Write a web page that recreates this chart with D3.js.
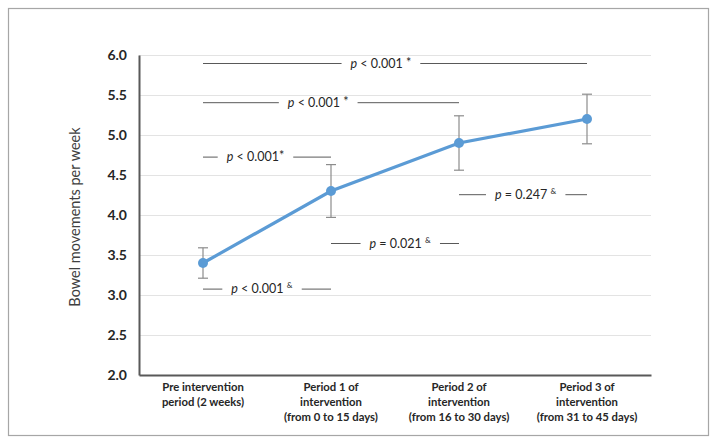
<!DOCTYPE html>
<html><head><meta charset="utf-8">
<script src="https://cdn.jsdelivr.net/npm/d3@7"></script>
<style>body{margin:0;background:#fff}svg{display:block}</style>
</head><body>
<svg id="c" width="720" height="446"></svg>
<script>
const categories = [
  ["Pre intervention", "period (2 weeks)"],
  ["Period 1 of", "intervention", "(from 0 to 15 days)"],
  ["Period 2 of", "intervention", "(from 16 to 30 days)"],
  ["Period 3 of", "intervention", "(from 31 to 45 days)"]
];
const means = [3.4, 4.3, 4.9, 5.2];
const errors = [0.19, 0.33, 0.34, 0.31];
const yTicks = [2.0, 2.5, 3.0, 3.5, 4.0, 4.5, 5.0, 5.5, 6.0];
const yTitle = "Bowel movements per week";
// annotations: comparison between category indices, level on y scale, label
const annFrom = [0, 0, 0, 0, 1, 2];
const annTo = [3, 2, 1, 1, 2, 3];
const annLevel = [5.9, 5.41, 4.73, 3.08, 3.65, 4.26];
const annOp = ["<", "<", "<", "<", "=", "="];
const annValue = ["0.001", "0.001", "0.001", "0.001", "0.021", "0.247"];
const annMark = [" *", " *", "*", " &", " &", " &"];
const annCenter = [1.39, 0.90, 0.41, 0.46, 1.54, 2.52];

const svg = d3.select("#c");
const font = "Lato, 'Liberation Sans', sans-serif";

// outer frame
svg.append("rect").attr("x", 8.5).attr("y", 8.5).attr("width", 700).attr("height", 427)
  .attr("fill", "#fff").attr("stroke", "#a6a6a6").attr("stroke-width", 1.2);

const m = {l: 139, r: 651, t: 55, b: 375};
const x = d3.scaleBand().domain(d3.range(categories.length)).range([m.l, m.r]);
const xc = i => x(i) + x.bandwidth() / 2;
const xf = f => m.l + x.bandwidth() / 2 + f * x.bandwidth();
const y = d3.scaleLinear().domain([2, 6]).range([m.b, m.t]);

// gridlines
svg.append("g").selectAll("line").data(yTicks.slice(1)).join("line")
  .attr("x1", m.l).attr("x2", m.r).attr("y1", d => y(d) + 0.5).attr("y2", d => y(d) + 0.5)
  .attr("stroke", "#e3e3e3").attr("stroke-width", 1);

// y axis
const ya = svg.append("g").attr("transform", `translate(${m.l},0)`)
  .call(d3.axisLeft(y).tickValues(yTicks).tickFormat(d3.format(".1f")).tickSize(0).tickPadding(12));
ya.select(".domain").attr("stroke", "#595959").attr("stroke-width", 2);
ya.selectAll("text").attr("font-family", font).attr("font-weight", "bold")
  .attr("font-size", 14).attr("fill", "#262626");

// x axis
const xa = svg.append("g").attr("transform", `translate(0,${m.b})`)
  .call(d3.axisBottom(x).tickSize(0).tickFormat(""));
xa.select(".domain").attr("stroke", "#595959").attr("stroke-width", 2);
xa.selectAll(".tick").each(function(d) {
  const t = d3.select(this).select("text").attr("y", 0).attr("dy", 0)
    .attr("font-family", font).attr("font-weight", "bold").attr("font-size", 11.3)
    .attr("fill", "#262626");
  categories[d].forEach((line, k) => {
    t.append("tspan").attr("x", 0).attr("y", 16 + k * 15).text(line);
  });
});

// y title
svg.append("text").attr("transform", `translate(80,${(m.t + m.b) / 2 + 2}) rotate(-90)`)
  .attr("text-anchor", "middle").attr("font-family", font).attr("font-size", 14.5)
  .attr("fill", "#404040").text(yTitle);

// annotations
const ann = svg.append("g");
annLevel.forEach((lv, i) => {
  const cy = y(lv);
  const t = ann.append("text").attr("x", xf(annCenter[i])).attr("y", cy + 4.5)
    .attr("text-anchor", "middle").attr("font-family", font).attr("font-size", 12.5)
    .attr("fill", "#262626");
  t.append("tspan").attr("font-style", "italic").text("p");
  t.append("tspan").text(` ${annOp[i]} ${annValue[i]}`);
  if (annMark[i].trim() === "&") {
    t.append("tspan").text(" ");
    t.append("tspan").attr("font-size", 8).attr("dy", -5).text("&");
  } else {
    t.append("tspan").attr("font-size", 12.5).attr("dy", -1).text(annMark[i]);
  }
  const bb = t.node().getBBox();
  const gap = 9;
  ann.append("line").attr("x1", xc(annFrom[i])).attr("x2", bb.x - gap)
    .attr("y1", cy + 0.5).attr("y2", cy + 0.5).attr("stroke", "#595959").attr("stroke-width", 1);
  ann.append("line").attr("x1", bb.x + bb.width + gap).attr("x2", xc(annTo[i]))
    .attr("y1", cy + 0.5).attr("y2", cy + 0.5).attr("stroke", "#595959").attr("stroke-width", 1);
});

// error bars
const eb = svg.append("g").attr("stroke", "#8c8c8c").attr("stroke-width", 1.2);
means.forEach((v, i) => {
  eb.append("line").attr("x1", xc(i)).attr("x2", xc(i)).attr("y1", y(v - errors[i])).attr("y2", y(v + errors[i]));
  [v - errors[i], v + errors[i]].forEach(e => {
    eb.append("line").attr("x1", xc(i) - 5).attr("x2", xc(i) + 5).attr("y1", y(e)).attr("y2", y(e));
  });
});

// line + points
svg.append("path").datum(means)
  .attr("d", d3.line().x((d, i) => xc(i)).y(d => y(d)))
  .attr("fill", "none").attr("stroke", "#5b9bd5").attr("stroke-width", 3.2).attr("stroke-linecap", "round");
svg.append("g").selectAll("circle").data(means).join("circle")
  .attr("cx", (d, i) => xc(i)).attr("cy", d => y(d)).attr("r", 5).attr("fill", "#5b9bd5");
</script>
</body></html>
